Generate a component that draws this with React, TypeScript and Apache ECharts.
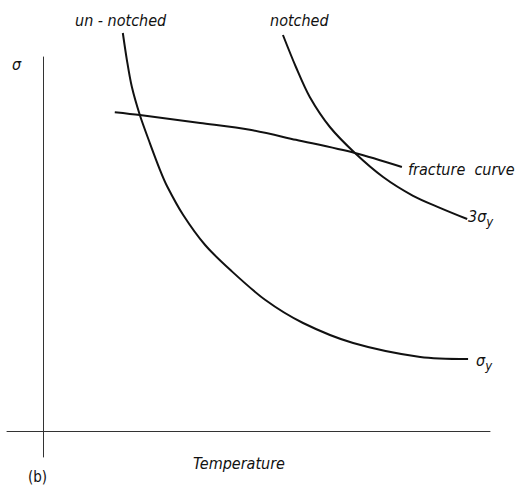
import React, { useEffect, useRef } from "react";
import * as echarts from "echarts";

// Curves (x: temperature, arbitrary units; y: stress σ, arbitrary units)
const unNotched: number[][] = [
  [17.9, 99.5], [18.8, 92.8], [19.9, 86.1], [21.7, 79], [24.0, 71.8], [26.2, 65.3],
  [27.8, 61.2], [31.4, 54], [36.3, 46.5], [41.9, 40.3], [49.7, 32.8], [58.2, 27],
  [69.4, 22], [84.4, 18.5], [95.1, 18],
];
const notched: number[][] = [
  [53.7, 99], [56.6, 91], [59.7, 83.5], [64.2, 76], [69.8, 69.5], [76.1, 63.5],
  [82.8, 58.8], [88.8, 55.8], [94.9, 53],
];
const fracture: number[][] = [
  [16.1, 79.7], [21.7, 79], [35.2, 77], [46.3, 75.3], [56.6, 72.8], [69.8, 69.5], [80.3, 66],
];

const xAxisTitle = "Temperature";
const yAxisTitle = "σ";
const panelLabel = "(b)";
const topLabels = ["un - notched", "notched"];
const curveLabels = ["fracture  curve", "3σ", "σ"];

const FONT = "'DejaVu Sans Condensed', 'DejaVu Sans', sans-serif";

export default function App() {
  const ref = useRef<HTMLDivElement>(null);
  useEffect(() => {
    if (!ref.current) return;
    const chart = echarts.init(ref.current, undefined, { renderer: "svg" });
    const lineSeries = (name: string, data: number[][]) => ({
      name,
      type: "line",
      data,
      smooth: 0.3,
      showSymbol: false,
      symbol: "none",
      clip: false,
      lineStyle: { color: "#111", width: 2 },
    });
    const txt = (text: string, x: number, y: number, extra: any = {}) => ({
      type: "text",
      style: {
        text,
        x,
        y,
        fill: "#111",
        font: `italic 16px ${FONT}`,
        verticalAlign: "middle",
        ...extra,
      },
    });
    const sub = (main: string, x: number, y: number) => ({
      type: "text",
      style: {
        text: `{m|${main}}{s|y}`,
        x,
        y,
        verticalAlign: "middle",
        rich: {
          m: { font: `italic 16px ${FONT}`, fill: "#111" },
          s: { font: `italic 13px ${FONT}`, fill: "#111", padding: [10, 0, 0, 0] },
        },
      },
    });
    chart.setOption({
      animation: false,
      backgroundColor: "#fff",
      grid: { left: 7, right: 37, top: 57, bottom: 29 },
      xAxis: {
        type: "value",
        min: -8,
        max: 100,
        axisLine: { onZero: true, lineStyle: { color: "#333", width: 1 } },
        axisTick: { show: false },
        axisLabel: { show: false },
        splitLine: { show: false },
      },
      yAxis: {
        type: "value",
        min: -6.5,
        max: 93.5,
        axisLine: { show: true, onZero: true, lineStyle: { color: "#333", width: 1 } },
        axisTick: { show: false },
        axisLabel: { show: false },
        splitLine: { show: false },
      },
      series: [
        lineSeries("un-notched", unNotched),
        lineSeries("notched", notched),
        lineSeries("fracture curve", fracture),
      ],
      graphic: [
        txt(topLabels[0], 75, 20),
        txt(topLabels[1], 270, 20),
        txt(yAxisTitle, 12, 64),
        txt(curveLabels[0], 408, 169),
        sub(curveLabels[1], 468, 216),
        sub(curveLabels[2], 476, 360),
        txt(xAxisTitle, 193, 463),
        txt(panelLabel, 28, 477, { font: `15px ${FONT}` }),
      ],
    });
    return () => chart.dispose();
  }, []);
  return (
    <div
      ref={ref}
      style={{ position: "fixed", left: 0, top: 0, width: 527, height: 486 }}
    />
  );
}
